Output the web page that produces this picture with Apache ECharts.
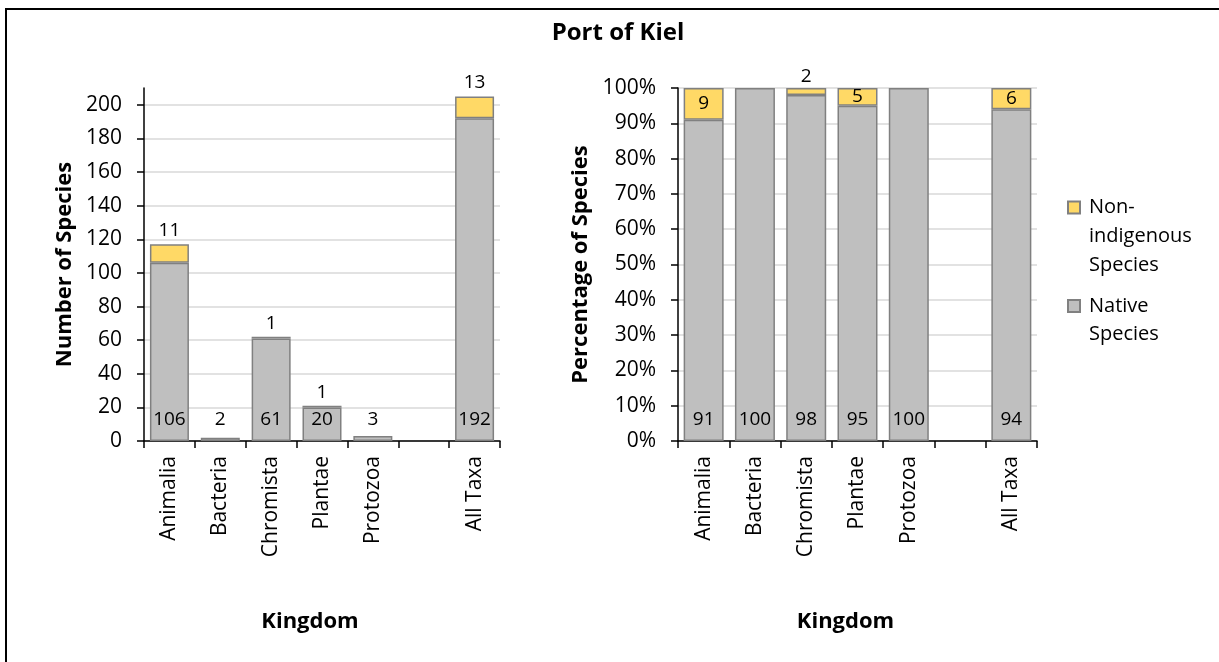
<!DOCTYPE html>
<html>
<head>
<meta charset="utf-8">
<script src="https://cdn.jsdelivr.net/npm/echarts@6/dist/echarts.min.js"></script>
<style>
  html, body { margin: 0; padding: 0; background: #ffffff; }
  #chart { width: 1219px; height: 662px; }
</style>
</head>
<body>
<div id="chart"></div>
<script>
// Species composition by kingdom, Port of Kiel
const kingdoms = ['Animalia', 'Bacteria', 'Chromista', 'Plantae', 'Protozoa', '', 'All Taxa'];

// Absolute counts (left panel)
const nativeCounts = [106, 2, 61, 20, 3, null, 192];
const nonIndigenousCounts = [11, 0, 1, 1, 0, null, 13];

// Rounded percentages (right panel)
const nativePercent = [91, 100, 98, 95, 100, null, 94];
const nonIndigenousPercent = [9, 0, 2, 5, 0, null, 6];

// Tick labels
const countTicks = [0, 20, 40, 60, 80, 100, 120, 140, 160, 180, 200];
const percentTicks = [0, 10, 20, 30, 40, 50, 60, 70, 80, 90, 100];

const FONT = 'Open Sans';
const GREY = '#bfbfbf';
const YELLOW = '#ffd966';
const EDGE = '#808080';
const NATIVE_NAME = 'Native Species';
const NIS_NAME = 'Non-indigenous Species';

// empty / zero segments are left out so no flat outline is drawn
const toBar = arr => arr.map(v => (v === null || v === 0) ? '-' : v);

const chart = echarts.init(document.getElementById('chart'), null, { renderer: 'canvas' });

function xAxisCfg(gridIndex) {
  return {
    type: 'category',
    gridIndex,
    data: kingdoms,
    axisLine: { lineStyle: { color: '#000', width: 1.5 } },
    axisTick: { show: true, interval: 0, length: 7, lineStyle: { color: '#000', width: 1.5 } },
    axisLabel: { interval: 0, rotate: 90, margin: 15, fontFamily: FONT, fontSize: 21, color: '#000' },
    name: 'Kingdom',
    nameLocation: 'middle',
    nameGap: 170,
    nameTextStyle: { fontFamily: FONT, fontSize: 22, fontWeight: 'bold', color: '#000', padding: [0, 24, 0, 0] }
  };
}

function yAxisCfg(gridIndex, max, interval, ticks, fmt, name, nameGap) {
  return {
    type: 'value',
    gridIndex,
    min: 0,
    max,
    interval,
    axisLine: { show: true, lineStyle: { color: '#000', width: 1.5 } },
    axisTick: { show: true, length: 7, customValues: ticks, lineStyle: { color: '#000', width: 1.5 } },
    axisLabel: { customValues: ticks, formatter: fmt, margin: 22, fontFamily: FONT, fontSize: 21, color: '#000' },
    splitLine: { show: true, lineStyle: { color: '#d9d9d9', width: 1.5 } },
    name,
    nameLocation: 'middle',
    nameGap,
    nameTextStyle: { fontFamily: FONT, fontSize: 22, fontWeight: 'bold', color: '#000' }
  };
}

const labelBase = { show: true, fontFamily: FONT, fontSize: 19, color: '#000' };

const option = {
  animation: false,
  backgroundColor: '#ffffff',
  title: {
    text: 'Port of Kiel',
    left: 613,
    top: 16,
    textAlign: 'center',
    textStyle: { fontFamily: FONT, fontSize: 24, fontWeight: 'bold', color: '#000' }
  },
  legend: [
    {
      data: [{ name: NIS_NAME, icon: 'path://M0,0M17,87M1,8.5h12v12h-12z' }],
      formatter: () => 'Non-\nindigenous\nSpecies',
      selectedMode: false,
      orient: 'vertical',
      left: 1066,
      top: 192,
      padding: 0,
      itemWidth: 17,
      itemHeight: 87,
      textStyle: { fontFamily: FONT, fontSize: 20, lineHeight: 29, color: '#000' }
    },
    {
      data: [{ name: NATIVE_NAME, icon: 'path://M0,0M17,56M1,8h12v12h-12z' }],
      formatter: () => 'Native\nSpecies',
      selectedMode: false,
      orient: 'vertical',
      left: 1066,
      top: 291,
      padding: 0,
      itemWidth: 17,
      itemHeight: 56,
      textStyle: { fontFamily: FONT, fontSize: 20, lineHeight: 28, color: '#000' }
    }
  ],
  grid: [
    { left: 144, top: 88, width: 356, height: 353 },
    { left: 678, top: 88, width: 359, height: 353 }
  ],
  xAxis: [xAxisCfg(0), xAxisCfg(1)],
  yAxis: [
    yAxisCfg(0, 210, 20, countTicks, '{value}', 'Number of Species', 68),
    yAxisCfg(1, 100, 10, percentTicks, '{value}%', 'Percentage of Species', 86)
  ],
  series: [
    {
      name: NATIVE_NAME, type: 'bar', xAxisIndex: 0, yAxisIndex: 0, stack: 'count',
      barWidth: 39,
      data: toBar(nativeCounts),
      itemStyle: { color: GREY, borderColor: EDGE, borderWidth: 1.5 },
      label: Object.assign({}, labelBase, { position: 'insideBottom', distance: 12 })
    },
    {
      name: NIS_NAME, type: 'bar', xAxisIndex: 0, yAxisIndex: 0, stack: 'count',
      barWidth: 39,
      data: toBar(nonIndigenousCounts),
      itemStyle: { color: YELLOW, borderColor: EDGE, borderWidth: 1.5 },
      label: Object.assign({}, labelBase, { position: 'top', distance: 4 })
    },
    {
      name: NATIVE_NAME, type: 'bar', xAxisIndex: 1, yAxisIndex: 1, stack: 'pct',
      barWidth: 40,
      data: toBar(nativePercent),
      itemStyle: { color: GREY, borderColor: EDGE, borderWidth: 1.5 },
      label: Object.assign({}, labelBase, { position: 'insideBottom', distance: 12 })
    },
    {
      name: NIS_NAME, type: 'bar', xAxisIndex: 1, yAxisIndex: 1, stack: 'pct',
      barWidth: 40,
      // thin segments carry their label above the bar
      data: toBar(nonIndigenousPercent).map(v =>
        (v !== '-' && v < 4) ? { value: v, label: { position: 'top', distance: 2 } } : v),
      itemStyle: { color: YELLOW, borderColor: EDGE, borderWidth: 1.5 },
      label: Object.assign({}, labelBase, { position: 'inside' })
    }
  ],
  graphic: [
    {
      type: 'rect',
      silent: true,
      shape: { x: 6, y: 9, width: 1400, height: 900 },
      style: { fill: 'none', stroke: '#000', lineWidth: 2 }
    }
  ]
};

chart.setOption(option);
</script>
</body>
</html>
